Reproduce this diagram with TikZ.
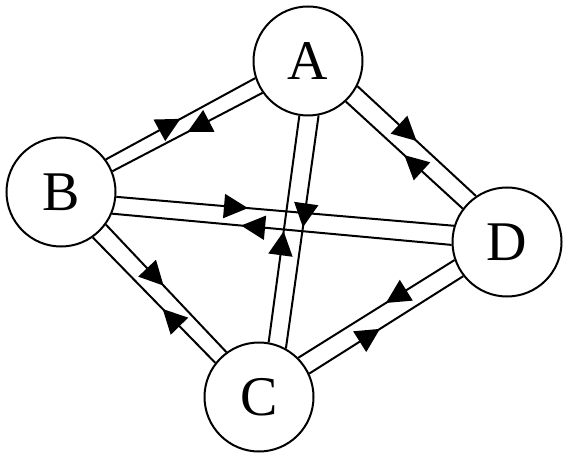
\documentclass[tikz,border=0pt]{standalone}
\usepackage{fontspec}
\setmainfont{Liberation Serif}
\usetikzlibrary{arrows.meta,decorations.markings}

\begin{document}
\begin{tikzpicture}[
    x=0.5pt,y=-0.5pt,
    vertex/.style={draw,circle,line width=1pt,minimum size=54.5pt,inner sep=0pt,font=\fontsize{28}{30}\selectfont},
    link/.style={line width=1pt},
    midarrow/.style={postaction={decorate},decoration={markings,mark=at position #1 with {\arrow{Triangle[length=12pt,width=12pt]}}}}
  ]
    \useasboundingbox (0,0) rectangle (576,459);
    \node[vertex] (A) at (308,61) {A};
    \node[vertex] (B) at (61,192) {B};
    \node[vertex] (D) at (507,242) {D};
    \node[vertex] (C) at (259,397) {C};
    % A -- B
    \draw[link,midarrow=0.5] (B.36.8) -- (A.198.8);
    \draw[link,midarrow=0.5] (A.215.9) -- (B.22.5);
    % A -- D
    \draw[link,midarrow=0.5] (A.-27.8) -- (D.124.2);
    \draw[link,midarrow=0.5] (D.143.6) -- (A.-47.2);
    % B -- D
    \draw[link,midarrow=0.39] (B.-5) -- (D.163.9);
    \draw[link,midarrow=0.62] (D.183.2) -- (B.-23);
    % A -- C
    \draw[link,midarrow=0.48] (A.281.9) -- (C.61.3);
    \draw[link,midarrow=0.49] (C.80.9) -- (A.261.3);
    % B -- C
    \draw[link,midarrow=0.48] (B.-36.9) -- (C.126);
    \draw[link,midarrow=0.43] (C.142.7) -- (B.-55.1);
    % C -- D
    \draw[link,midarrow=0.44] (D.199.4) -- (C.45.7);
    \draw[link,midarrow=0.46] (C.25.7) -- (D.218.1);
  \end{tikzpicture}
\end{document}
